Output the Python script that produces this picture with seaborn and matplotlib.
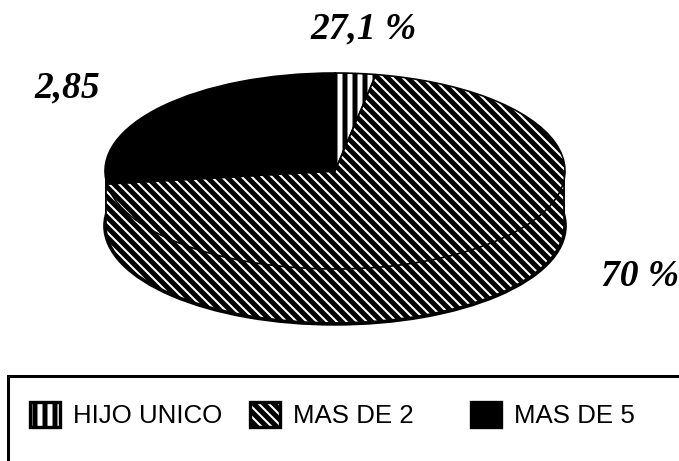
import matplotlib
matplotlib.use('Agg')
import matplotlib.pyplot as plt
from matplotlib.patches import Patch, Rectangle
import seaborn as sns

categorias = ['HIJO UNICO', 'MAS DE 2', 'MAS DE 5']
valores = [2.85, 70, 27.1]
rotulos = ['2,85', '70 %', '27,1 %']
listras = '\\' * 4
hachuras = ['||', listras, None]
cores = ['white', 'white', 'black']

sns.set_theme(style='white')
plt.rcParams['hatch.linewidth'] = 3
plt.rcParams['patch.edgecolor'] = 'black'

L, H = 679, 461
fig = plt.figure(figsize=(L / 120, H / 120), dpi=120, facecolor='white')

# eixo cobre a elipse de cima + a lateral do "3D"
profundidade = 0.56
x0, x1, topo, base = 105, 565, 73, 73 + 98 * (2 + profundidade)
ax = fig.add_axes([x0 / L, 1 - base / H, (x1 - x0) / L, (base - topo) / H])

# lateral: elipse inteira deslocada para baixo, toda hachurada
ax.pie([sum(valores)], startangle=90, radius=1, center=(0, -profundidade),
       colors=['white'], hatch=listras,
       wedgeprops={'edgecolor': 'black', 'linewidth': 2.2, 'zorder': 1})
ax.add_patch(Rectangle((-1, -profundidade), 2, profundidade, facecolor='white',
                       hatch=listras, edgecolor='black', linewidth=0, zorder=2))
ax.vlines([-1, 1], -profundidade, 0, color='black', linewidth=2.2, zorder=2.5)

# topo
ax.pie(valores, startangle=90, counterclock=False, radius=1, colors=cores, hatch=hachuras,
       wedgeprops={'edgecolor': 'black', 'linewidth': 1.0, 'zorder': 3})

ax.set_aspect('auto')
ax.set_xlim(-1, 1)
ax.set_ylim(-1 - profundidade, 1)
ax.axis('off')
for p in ax.patches:
    p.set_clip_on(False)

# rótulos (na posição em que aparecem no original)
fonte = dict(family='Liberation Serif', fontweight='bold', fontstyle='italic',
             fontsize=22.5, color='black')
fig.text(34 / L, 1 - 88 / H, rotulos[0], ha='left', va='center', **fonte)
fig.text(601 / L, 1 - 276 / H, rotulos[1], ha='left', va='center', **fonte)
fig.text(310 / L, 1 - 29 / H, rotulos[2], ha='left', va='center', **fonte)

# moldura da legenda (sai da figura à direita e embaixo)
fig.add_artist(Rectangle((8 / L, -0.05), 1, 1 - 376 / H + 0.05, transform=fig.transFigure,
                         facecolor='none', edgecolor='black', linewidth=1.8))

# legenda, uma entrada por vez para acertar os espaços
pos_legenda = [30, 250, 471]
for cat, cor, hach, xp in zip(categorias, cores, hachuras, pos_legenda):
    h = Patch(facecolor=cor, edgecolor='black', hatch=hach, linewidth=2, label=cat)
    leg = fig.legend(handles=[h], loc='center left', bbox_to_anchor=(xp / L, 1 - 415 / H),
                     frameon=False, borderpad=0, borderaxespad=0, handlelength=1.16,
                     handleheight=1.16, handletextpad=0.5,
                     prop={'family': ['Liberation Sans Narrow', 'Liberation Sans'], 'size': 15.5})
    for t in leg.get_texts():
        t.set_color('black')

fig.savefig('out.png', dpi=120, facecolor='white')
